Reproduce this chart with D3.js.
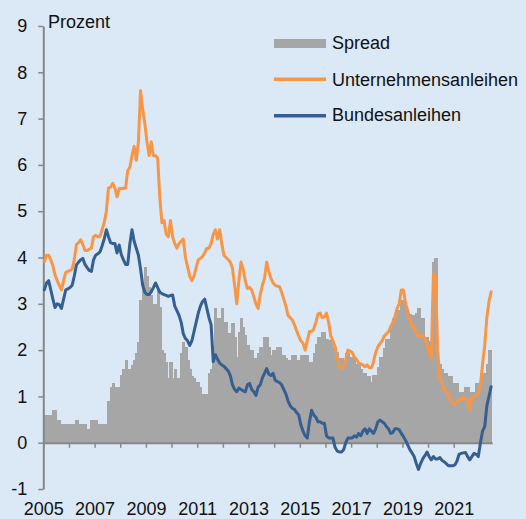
<!DOCTYPE html>
<html><head><meta charset="utf-8">
<script src="https://cdn.jsdelivr.net/npm/d3@7"></script>
<style>html,body{margin:0;padding:0;background:#dbe8f6;overflow:hidden}</style>
</head><body><svg id="c" width="526" height="519"></svg>
<script>
// Monthly data, January 2005 - June 2022 (percent)
const startYear = 2005;

const unternehmen = [
  3.91, 4.05, 4.05, 3.95, 3.82, 3.62, 3.5, 3.4, 3.3, 3.5, 3.68, 3.7,
  3.72, 3.75, 3.95, 4.28, 4.32, 4.38, 4.28, 4.15, 4.15, 4.18, 4.2, 4.45,
  4.48, 4.45, 4.45, 4.6, 4.75, 5.0, 5.5, 5.52, 5.6, 5.5, 5.31, 5.49,
  5.49, 5.49, 5.5, 5.88, 5.95, 6.2, 6.4, 6.1, 6.5, 7.6, 7.2, 6.9,
  6.5, 6.2, 6.5, 6.2, 6.2, 6.15, 5.3, 4.75, 4.8, 4.5, 4.45, 4.8,
  4.45, 4.3, 4.2, 4.3, 4.35, 4.4, 4.0, 3.8, 3.6, 3.5, 3.6, 3.78,
  3.95, 3.98, 4.02, 4.1, 4.2, 4.2, 4.3, 4.5, 4.6, 4.4, 4.6, 4.3,
  4.05, 4.0, 3.95, 3.9, 3.77, 3.4, 3.0, 3.5, 3.9, 3.75, 3.5, 3.33,
  3.35, 3.3, 3.15, 3.0, 2.9, 3.2, 3.4, 3.55, 3.9, 3.7, 3.55, 3.45,
  3.4, 3.38, 3.37, 3.25, 3.1, 2.95, 2.75, 2.7, 2.65, 2.55, 2.42, 2.3,
  2.2, 2.15, 2.0, 2.2, 2.4, 2.4, 2.45, 2.6, 2.78, 2.8, 2.7, 2.72,
  2.8, 2.6, 2.3, 2.2, 2.07, 1.85, 1.64, 1.6, 1.65, 1.8, 2.0, 1.98,
  1.95, 1.85, 1.8, 1.72, 1.7, 1.68, 1.64, 1.68, 1.62, 1.62, 1.75, 1.95,
  2.07, 2.14, 2.2, 2.3, 2.35, 2.4, 2.5, 2.6, 2.72, 2.9, 3.0, 3.3,
  3.3, 3.0, 2.85, 2.65, 2.5, 2.5, 2.35, 2.3, 2.3, 2.32, 2.25, 2.1,
  1.95, 1.82, 3.65, 3.6, 2.0, 1.4, 1.3, 1.15, 1.1, 1.05, 0.9, 0.85,
  0.82, 0.88, 0.93, 0.93, 0.98, 0.95, 0.93, 0.72, 0.98, 1.0, 1.03, 1.07,
  1.25, 1.7, 2.1, 2.7, 3.05, 3.26
];

const bund = [
  3.3, 3.45, 3.5, 3.3, 3.1, 2.92, 3.0, 2.98, 2.9, 3.1, 3.3, 3.32,
  3.35, 3.4, 3.6, 3.84, 3.9, 3.95, 3.98, 3.85, 3.78, 3.72, 3.7, 3.95,
  4.05, 4.08, 4.12, 4.25, 4.4, 4.6, 4.45, 4.32, 4.3, 4.3, 4.1, 4.27,
  4.06, 3.95, 3.85, 3.85, 4.3, 4.6, 4.35, 4.2, 4.05, 3.75, 3.4, 3.25,
  3.2, 3.2, 3.26, 3.35, 3.45, 3.35, 3.25, 3.22, 3.2, 3.18, 3.16, 3.18,
  3.19, 2.95, 2.85, 2.75, 2.6, 2.35, 2.25, 2.2, 2.1, 2.2, 2.4, 2.6,
  2.8, 2.95, 3.05, 3.1, 2.9, 2.7, 2.55, 1.75, 1.9, 1.8, 1.72, 1.68,
  1.65, 1.6, 1.55, 1.45, 1.25, 1.15, 1.1, 1.18, 1.15, 1.12, 1.1, 1.25,
  1.28, 1.15, 1.1, 1.02, 1.2, 1.25, 1.4, 1.5, 1.6, 1.48, 1.45, 1.5,
  1.35, 1.32, 1.3, 1.25, 1.15, 1.05, 0.9, 0.8, 0.74, 0.72, 0.65, 0.6,
  0.38, 0.25, 0.15, 0.1, 0.45, 0.7, 0.6, 0.55, 0.45, 0.45, 0.42, 0.42,
  0.15, 0.1, 0.1, 0.1, -0.1, -0.18, -0.2, -0.2, -0.15, 0.0, 0.1, 0.1,
  0.1, 0.15, 0.12, 0.2, 0.15, 0.25, 0.3, 0.2, 0.3, 0.25, 0.2, 0.3,
  0.45, 0.49, 0.45, 0.42, 0.35, 0.3, 0.2, 0.22, 0.3, 0.3, 0.28, 0.2,
  0.13, 0.05, -0.05, -0.15, -0.22, -0.3, -0.45, -0.58, -0.45, -0.35, -0.28, -0.2,
  -0.3, -0.37, -0.3, -0.35, -0.35, -0.32, -0.38, -0.41, -0.45, -0.5, -0.5, -0.5,
  -0.48, -0.4, -0.25, -0.23, -0.22, -0.21, -0.3, -0.37, -0.3, -0.23, -0.25, -0.3,
  0.0, 0.25, 0.35, 0.8, 1.0, 1.21
];

const spread = [
  0.6, 0.6, 0.6, 0.6, 0.7, 0.7, 0.5, 0.5, 0.4, 0.4, 0.4, 0.4,
  0.4, 0.4, 0.4, 0.5, 0.4, 0.4, 0.4, 0.4, 0.3, 0.3, 0.5, 0.5,
  0.5, 0.4, 0.4, 0.4, 0.4, 0.4, 0.89, 1.21, 1.28, 1.2, 1.2, 1.2,
  1.46, 1.6, 1.79, 1.6, 1.6, 1.68, 1.79, 1.93, 2.18, 3.08, 3.4, 3.8,
  3.59, 3.37, 3.2, 3.0, 3.0, 3.3, 2.94, 2.0, 1.93, 1.75, 1.39, 1.75,
  1.39, 1.6, 1.39, 1.39, 1.93, 2.18, 2.07, 1.79, 1.6, 1.45, 1.39, 1.32,
  1.32, 1.21, 1.05, 1.05, 1.05, 1.5, 1.6, 2.11, 2.9, 2.69, 2.69, 2.9,
  2.6, 2.6, 2.36, 2.36, 2.58, 2.29, 1.86, 2.4, 2.69, 2.5, 2.32, 2.11,
  2.0, 2.0, 1.82, 1.82, 1.93, 2.07, 2.07, 2.29, 2.29, 2.07, 1.89, 2.0,
  2.0, 2.07, 2.07, 1.89, 1.89, 1.82, 1.79, 1.79, 1.89, 1.89, 1.79, 1.79,
  1.89, 1.89, 1.89, 1.89, 1.75, 1.75, 1.93, 2.14, 2.29, 2.29, 2.4, 2.4,
  2.25, 2.22, 2.22, 2.07, 2.07, 1.96, 1.82, 1.82, 1.79, 1.93, 1.93, 1.86,
  1.86, 1.86, 1.71, 1.71, 1.6, 1.5, 1.5, 1.43, 1.43, 1.32, 1.46, 1.46,
  1.64, 1.86, 1.86, 2.04, 2.25, 2.25, 2.47, 2.69, 2.69, 2.87, 2.87, 3.08,
  3.08, 2.94, 2.79, 2.79, 2.75, 2.75, 2.8, 2.9, 2.7, 2.7, 2.29, 2.29,
  2.2, 2.2, 3.9, 4.0, 1.71, 1.71, 1.6, 1.5, 1.5, 1.45, 1.45, 1.28,
  1.28, 1.28, 1.1, 1.1, 1.1, 1.2, 1.2, 1.1, 1.1, 1.1, 1.28, 1.28,
  1.28, 1.5, 1.5, 1.71, 2.0, 2.0
];

const yearLabels = ["2005", "2007", "2009", "2011", "2013", "2015", "2017", "2019", "2021"];
const yTicks = [-1, 0, 1, 2, 3, 4, 5, 6, 7, 8, 9];
const seriesNames = ["Spread", "Unternehmensanleihen", "Bundesanleihen"];
const unitLabel = "Prozent";

const COL_SPREAD = "#a6a6a6", COL_ORANGE = "#f79646", COL_BLUE = "#365f91";
const BG = "#dbe8f6", AXIS = "#878787", TEXT = "#111";
const FONT = "'Liberation Sans', Arial, sans-serif";

const W = 526, H = 519;
const svg = d3.select("#c");
svg.append("rect").attr("width", W).attr("height", H).attr("fill", BG);

const n = spread.length;
const x = d3.scaleLinear().domain([0, n]).range([43.3, 492.2]);
const y = d3.scaleLinear().domain([-1, 9]).range([489, 26]);

// Spread bars (slightly overlapping so no seams show)
const bw = x(1) - x(0);
svg.append("g").attr("shape-rendering", "crispEdges")
  .selectAll("rect").data(spread).join("rect")
  .attr("x", (d, i) => x(i))
  .attr("width", (d, i) => i === n - 1 ? bw : bw + 1)
  .attr("y", d => y(Math.max(0, d)))
  .attr("height", d => Math.abs(y(d) - y(0)))
  .attr("fill", COL_SPREAD);

// X axis at zero
const tickMonths = d3.range(0, n, 12);
const gx = svg.append("g").attr("transform", `translate(0,${y(0)})`)
  .call(d3.axisBottom(x).tickValues(tickMonths).tickSize(5).tickSizeOuter(0).tickFormat(""));
gx.select(".domain").attr("stroke", AXIS).attr("stroke-width", 2);
gx.selectAll(".tick line").attr("stroke", AXIS).attr("stroke-width", 1.5);

// Year labels at the bottom
const gl = svg.append("g").attr("transform", `translate(0,${y(-1)})`)
  .call(d3.axisBottom(x)
    .tickValues(yearLabels.map(l => (+l - startYear) * 12))
    .tickSize(0).tickPadding(13)
    .tickFormat((d, i) => yearLabels[i]));
gl.select(".domain").remove();
gl.selectAll("text").attr("font-family", FONT).attr("font-size", 18).attr("fill", TEXT);

// Y axis
const gy = svg.append("g").attr("transform", `translate(${x(0)},0)`)
  .call(d3.axisLeft(y).tickValues(yTicks).tickSize(5).tickSizeOuter(0).tickPadding(11)
    .tickFormat(d => String(d)));
gy.select(".domain").attr("stroke", AXIS).attr("stroke-width", 2);
gy.selectAll(".tick line").attr("stroke", AXIS).attr("stroke-width", 1.5);
gy.selectAll("text").attr("font-family", FONT).attr("font-size", 18).attr("fill", TEXT);

svg.append("text").attr("x", 48).attr("y", 27.5)
  .attr("font-family", FONT).attr("font-size", 18).attr("fill", TEXT).text(unitLabel);

// Lines
const line = d3.line().x((d, i) => x(i + 0.5)).y(d => y(d));
svg.append("path").datum(unternehmen).attr("d", line)
  .attr("fill", "none").attr("stroke", COL_ORANGE).attr("stroke-width", 3)
  .attr("stroke-linejoin", "round").attr("stroke-linecap", "round");
svg.append("path").datum(bund).attr("d", line)
  .attr("fill", "none").attr("stroke", COL_BLUE).attr("stroke-width", 3)
  .attr("stroke-linejoin", "round").attr("stroke-linecap", "round");

// Legend
const lg = svg.append("g");
lg.append("rect").attr("x", 274).attr("y", 39).attr("width", 52).attr("height", 9).attr("fill", COL_SPREAD);
lg.append("line").attr("x1", 274).attr("x2", 326).attr("y1", 79.3).attr("y2", 79.3)
  .attr("stroke", COL_ORANGE).attr("stroke-width", 3.5);
lg.append("line").attr("x1", 274).attr("x2", 326).attr("y1", 115.7).attr("y2", 115.7)
  .attr("stroke", COL_BLUE).attr("stroke-width", 3.5);
const legY = [49.3, 85.7, 121.2];
lg.selectAll("text").data(seriesNames).join("text")
  .attr("x", 332).attr("y", (d, i) => legY[i])
  .attr("font-family", FONT).attr("font-size", 18).attr("fill", TEXT)
  .text(d => d);
</script>
</body></html>
